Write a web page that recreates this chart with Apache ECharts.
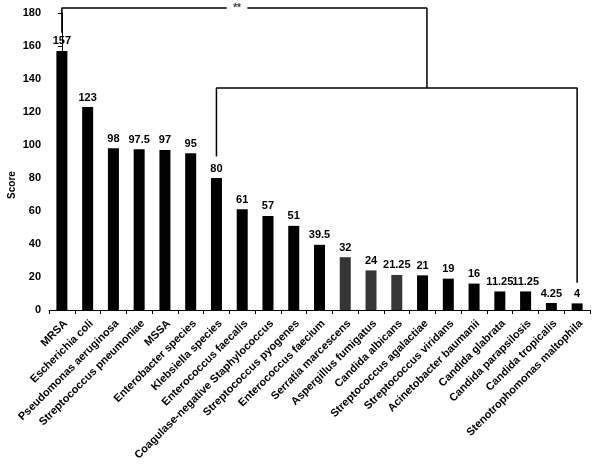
<!DOCTYPE html>
<html>
<head>
<meta charset="utf-8">
<script src="https://cdn.jsdelivr.net/npm/echarts@6/dist/echarts.min.js"></script>
<style>
  html, body { margin: 0; padding: 0; background: #fff; }
  #chart { width: 600px; height: 467px; }
</style>
</head>
<body>
<div id="chart"></div>
<script>
// organisms, sorted by score
const organisms = ['MRSA', 'Escherichia coli', 'Pseudomonas aeruginosa', 'Streptococcus pneumoniae',
  'MSSA', 'Enterobacter species', 'Klebsiella species', 'Enterococcus faecalis',
  'Coagulase-negative Staphylococcus', 'Streptococcus pyogenes', 'Enterococcus faecium',
  'Serratia marcescens', 'Aspergillus fumigatus', 'Candida albicans', 'Streptococcus agalactiae',
  'Streptococcus viridans', 'Acinetobacter baumanii', 'Candida glabrata', 'Candida parapsilosis',
  'Candida tropicalis', 'Stenotrophomonas maltophila'];
const scores = [157, 123, 98, 97.5, 97, 95, 80, 61, 57, 51, 39.5, 32, 24, 21.25, 21, 19, 16,
  11.25, 11.25, 4.25, 4];
const yTicks = [0, 180, 20]; // min, max, step

// significance brackets, [category index, score]
const bracketTopLeft = [[0, 168], [0, 183], [6.4, 183]];
const bracketTopRight = [[7.2, 183], [14.17, 183], [14.17, 134.5]];
const bracketLower = [[6, 93], [6, 134.5], [20, 134.5], [20, 16.5]];
const starMark = [[6.8, 183]];
const starText = '**';

const bold = { fontFamily: 'Liberation Sans, Arial, sans-serif', fontWeight: 'bold', color: '#000' };

const bracketLine = (data) => ({
  type: 'line', xAxisIndex: 1, data: data, symbol: 'none', clip: false, silent: true,
  lineStyle: { color: '#000', width: 1.5 }, z: 5
});

const chart = echarts.init(document.getElementById('chart'));
chart.setOption({
  animation: false,
  backgroundColor: '#fff',
  grid: { left: 49, right: 10, top: 13, bottom: 157, containLabel: false, outerBoundsMode: 'none' },
  xAxis: [{
    type: 'category',
    data: organisms,
    axisLine: { lineStyle: { color: '#000', width: 1 } },
    axisTick: { show: true, length: 4, interval: 0, lineStyle: { color: '#000' } },
    axisLabel: Object.assign({ interval: 0, rotate: 45, fontSize: 11, margin: 8, verticalAlign: 'top' }, bold)
  }, {
    type: 'value', min: -0.5, max: organisms.length - 0.5, show: false
  }],
  yAxis: {
    type: 'value',
    min: yTicks[0], max: yTicks[1], interval: yTicks[2],
    axisLine: { show: true, lineStyle: { color: '#000', width: 1 } },
    axisTick: { show: true, length: 4, lineStyle: { color: '#000' } },
    splitLine: { show: false },
    axisLabel: Object.assign({ fontSize: 11, margin: 8 }, bold)
  },
  graphic: [{
    type: 'text', x: 12, y: 185, rotation: Math.PI / 2,
    style: { text: 'Score', fontSize: 10, fill: '#000', align: 'center', verticalAlign: 'middle',
      fontFamily: bold.fontFamily, fontWeight: 'bold' }
  }],
  series: [{
    type: 'bar',
    data: scores,
    barWidth: 11,
    itemStyle: {
      color: (p) => (p.dataIndex >= 11 && p.dataIndex <= 13) ? '#363636' : '#000'
    },
    label: Object.assign({ show: true, position: 'top', distance: 4, fontSize: 11 }, bold)
  },
  bracketLine(bracketTopLeft),
  bracketLine(bracketTopRight),
  bracketLine(bracketLower),
  {
    type: 'scatter', xAxisIndex: 1, data: starMark, symbolSize: 0, clip: false, silent: true,
    label: Object.assign({ show: true, position: 'inside', formatter: starText, fontSize: 10 }, bold)
  }]
});
</script>
</body>
</html>
